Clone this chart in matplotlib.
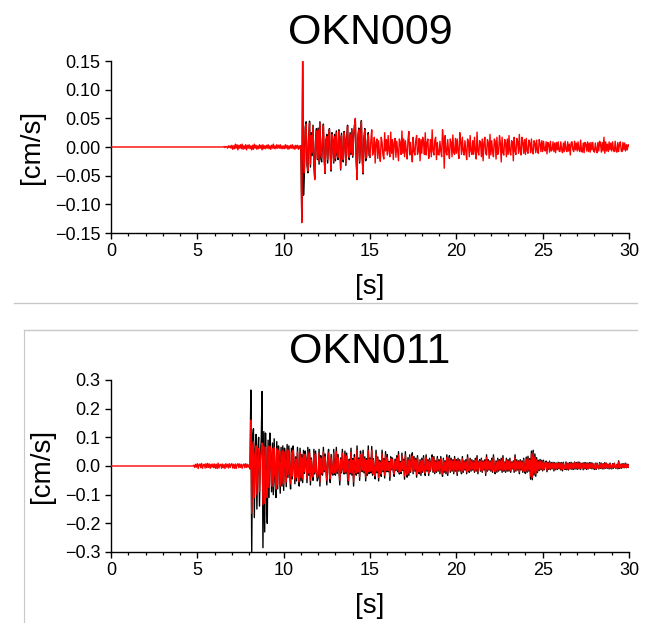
import numpy as np
import matplotlib
matplotlib.use("Agg")
import matplotlib.pyplot as plt
from matplotlib.lines import Line2D
from matplotlib.ticker import MultipleLocator

plt.rcParams['font.family'] = ['Liberation Sans', 'DejaVu Sans']

titles = ["OKN009", "OKN011"]
x_label = "[s]"
y_label = "[cm/s]"
x_ticks = [0, 5, 10, 15, 20, 25, 30]
y_ticks_009 = [-0.15, -0.10, -0.05, 0.00, 0.05, 0.10, 0.15]
y_ticks_011 = [-0.3, -0.2, -0.1, 0.0, 0.1, 0.2, 0.3]

sample_step = 0.05     # seconds between listed samples
unit = 0.001           # cm/s per listed count

# ---- OKN009 (values in 0.001 cm/s, from t = 0 s, one row per second) ----
okn009_red_start = 0.0
okn009_red = [0] * 130 + [
    0, 1, -1, 1, 0, -2, 2, -1, 2, -2,
    3, -4, 2, -3, 5, -2, 4, -5, 3, -2, 4, -3, 5, -4, 2, -3, 4, -5, 3, -2,
    4, -3, 2, -5, 3, -4, 5, -2, 3, -4, 2, -3, 4, -2, 3, -5, 4, -3, 2, -3,
    3, -2, 4, -3, 2, -4, 3, -2, 5, -3, 2, -3, 4, -2, 3, -2, 4, -3, 2, -3,
    2, -3, 4, -2, 3, -4, 2, -3, 3, -2, 4, -3, 2, -4, 3, -2, 3, -4, 2, -3,
    2, -132, 152, -20, -45, 30, 40, -25, -42, 15, 42, -30, 20, -10, 35, -28, -57, 10, 28, -20,
    30, -25, 42, -15, -20, 12, 38, -20, -45, 10, 18, -22, 15, 30, -12, -40, 22, 8, -25, 18,
    -20, 25, -10, -18, 28, 12, -38, 20, -15, -22, 25, 10, -30, 12, 36, -12, -18, 22, -10, 30,
    -15, 12, 35, 50, -20, -57, 15, 30, -25, 10, 45, -18, -45, 12, 30, -20, -15, 10, 22, -12,
    -17, 11, 30, -14, -8, 17, -28, 8, 14, -20, 11, -13, -25, 17, 8, -14, -21, 25, -7, 13,
    -14, 20, -7, -17, 26, -11, 13, -22, 7, 15, -18, 10, -8, -24, 14, 8, -13, 28, -11, 14,
    -17, 11, -7, -21, 13, 27, -14, 8, -11, -26, 17, -8, -14, 11, 20, -13, -7, 15, -24, 13,
    -11, 17, 8, -13, 25, -14, 7, 14, -20, -8, 13, -17, 30, -7, -14, 11, 17, -22, 8, -13,
    -14, 10, -7, -17, 30, 11, -37, 20, -8, -14, 13, -7, -20, 14, 8, -17, 21, -10, -13, 15,
    -11, 14, -8, -20, 25, 10, -13, 17, -7, -14, 11, -8, -22, 14, 8, -17, 20, -7, -13, 11,
    -13, 17, -7, -21, 26, -8, -14, 11, 8, -17, 14, -24, 7, 17, -11, -14, 13, 8, -20, 22,
    -14, 11, -8, -17, 14, 10, -21, 17, -13, -8, 20, 7, -26, 17, -10, -14, 13, 8, -17, 14,
    -13, 20, -8, -14, 11, 8, -24, 17, -7, -13, 15, 10, -11, 22, -7, -14, 17, 8, -11, 13,
    -13, 15, -7, -11, 12, 7, -10, 14, -8, -12, 11, 7, -10, 12, -7, -11, 13, 6, -8, 11,
    -8, 10, -5, -7, 9, -12, 8, 5, -9, 10, -7, -5, 9, -8, 7, -10, 8, -5, 9, -7,
    -8, 9, -5, -10, 7, -8, 10, -4, -8, 9, -7, 5, -14, 8, 9, -5, -8, 10, -5, 7,
    -7, 9, -5, -8, 12, -7, -9, 7, -10, 8, 5, -7, 9, -8, 7, -9, 8, -5, 8, -7,
    -9, 7, -5, -10, 8, -7, 10, 5, -9, 8, -7, 17, -11, 9, -7, 5, -8, 9, -5, 7,
    -7, 9, -5, -8, 10, -7, -9, 8, -8, 5, 9, -7, -8, 8, -5, 7, -7, 4, -5, 4,
    2,
]
okn009_black_start = 11.0
okn009_black = [
    2, -128, 148, -84, -40, 35, 44, -30, -45, 20, 45, -35, 25, -15, 38, -32, -55, 15, 32, -22,
    33, -30, 44, -20, -26, 16, 40, -24, -46, 12, 22, -28, 18, 32, -16, -42, 25, 10, -28, 22,
    -24, 28, -14, -22, 30, 15, -40, 24, -18, -26, 27, 13, -32, 16, 38, -15, -22, 25, -13, 32,
    -18, 15, 38, 48, -24, -55, 18, 33, -28, 12, 46, -22, -47, 15, 32, -24, -18, 12, 25, -15,
    -18,
]

# ---- OKN011 (values in 0.001 cm/s) ----
okn011_red_start = 0.0
okn011_red = [0] * 96 + [
    3, -5, 6, -4,
    8, -9, 5, 7, -6, 9, -8, 4, 6, -7, 8, -6, 9, -5, 7, -8, 6, -4, 7, -6,
    7, -8, 6, -9, 10, -7, 4, 6, -8, 7, -6, 5, -9, 8, -4, 6, -7, 8, -5, 6,
    8, -7, 6, -8, 7, -9, 5, 8, -6, 7, -5, 6, -8, 4, 7, -6, 8, -5, 6, -4,
    3, -10, 160, -165, 60, 85, -110, 40, 70, -100, 30, 60, -90, 20, 55, 80, -135, 70, -130, 65,
    -40, -110, 70, -75, 68, 20, -70, 60, -72, 65, -30, -80, 60, -65, 55, 10, -70, 50, -60, 55,
    -65, 48, 20, -55, 58, -30, 55, -20, -62, 48, -35, 55, 10, -48, 25, -40, 50, -20, -55, 48,
    -40, 30, -45, 42, -20, 40, 15, -45, 50, -25, 45, -50, 22, -20, -38, 45, -22, 40, -15, -40,
    -30, 45, -55, 28, -20, -25, 50, -15, 32, -10, -50, 20, 45, -22, -45, 30, -20, -25, 45, -22,
    -25, 50, -20, 30, -12, -50, 22, -18, 45, -10, -22, 40, -20, 35, -30, -50, 18, -22, 48, -25,
    20, -55, 30, -12, -25, 55, -20, 22, -38, 40, 10, -15, 42, -18, 25, -40, 20, -25, 55, -20,
    22, -18, 55, -25, 20, -12, -35, 42, -18, 25, -40, 15, 12, -28, 42, -15, 20, -32, 38, -15,
    30, -15, 12, -38, 25, -10, 22, -15, -28, 18, -12, 28, -15, 38, -22, 12, -20, 35, -12, 18,
    -35, 38, -14, -30, 22, -25, 30, -17, 14, 35, -21, 25, -14, 21, -30, 28, -11, -21, 17, -25,
    21, -17, 28, -11, -25, 30, -14, 17, -25, 21, -14, 11, 30, -17, 25, -21, 14, -17, 25, -14,
    17, -21, 25, -8, -28, 21, -17, 14, -21, 30, -25, 11, 28, -17, 21, -14, 17, -21, 25, -14,
    17, -25, 21, -14, 17, -8, -21, 25, -17, 14, -11, 17, -21, 30, -11, -17, 21, -14, 17, -11,
    14, -17, 21, -14, 28, -21, 11, 17, -14, 21, -17, 14, -11, 17, -25, 30, -14, 17, -11, 14,
    -14, 21, -17, 30, -8, -21, 14, -17, 21, -14, 17, -11, 21, -17, 28, -14, 11, -17, 21, -14,
    17, -14, 21, -17, 11, -8, 14, -17, 30, -14, 17, -11, 14, -21, 17, -11, 14, -17, 21, -14,
    -20, 24, -17, 26, -14, 20, -35, 42, -40, 45, -25, 32, -28, 22, -18, 15, -12, 18, -10, 15,
    -13, 15, -10, 8, 13, -15, 10, -9, 13, -10, 9, -8, 10, -13, 9, -10, 8, -9, 10, -8,
    9, -11, 9, -13, 10, -5, -9, 11, -10, 8, -11, 9, -8, 10, -9, 8, -9, 11, -8, 9,
    -9, 11, -8, 10, -9, 5, 8, -10, 9, -8, 9, -9, 8, -8, 9, -6, 9, -8, 8, -6,
    -9, 8, -9, 8, -5, -8, 9, -6, 8, -8, 6, -8, 9, -6, 8, -6, 5, -8, 8, -6,
    -8, 6, -6, 8, -4, -6, 5, -8, 14, -6, 5, -6, 6, -5, 6, -5, 8, -5, 5, -4,
    3,
]
okn011_black_start = 8.0
okn011_black = [
    3, -10, 265, -300, 100, 130, -180, 60, 110, -150, 50, 100, -140, 40, 90, 260, -285, 120, -230, 115,
    -60, -200, 90, -110, 115, 30, -90, 80, -100, 95, -50, -110, 85, -80, 70, 20, -95, 65, -70, 70,
    -85, 62, 26, -72, 75, -40, 70, -26, -80, 62, -45, 70, 13, -62, 32, -52, 65, -26, -70, 62,
    -52, 40, -58, 55, -26, 52, 20, -58, 65, -32, 58, -66, 28, -26, -50, 58, -28, 52, -20, -52,
    -40, 58, -70, 36, -26, -32, 65, -20, 42, -13, -66, 26, 58, -28, -58, 40, -26, -32, 58, -28,
    -32, 65, -26, 40, -16, -66, 28, -24, 58, -13, -28, 52, -26, 45, -40, -66, 24, -28, 62, -32,
    26, -70, 40, -16, -32, 70, -26, 28, -50, 52, 13, -20, 55, -24, 32, -52, 26, -32, 70, -26,
    28, -24, 68, -32, 26, -16, -45, 55, -24, 32, -52, 20, 16, -36, 55, -20, 26, -42, 50, -20,
    40, -20, 16, -50, 32, -13, 28, -20, -36, 24, -16, 36, -20, 50, -28, 16, -26, 45, -16, 24,
    -46, 50, -18, -39, 29, -33, 39, -22, 18, 46, -27, 33, -18, 27, -39, 36, -14, -27, 22, -33,
    27, -22, 36, -14, -33, 39, -18, 22, -33, 27, -18, 14, 39, -22, 33, -27, 18, -22, 33, -18,
    22, -27, 33, -10, -36, 27, -22, 18, -27, 39, -33, 14, 36, -22, 27, -18, 22, -27, 33, -18,
    22, -33, 27, -18, 22, -10, -27, 33, -22, 18, -14, 22, -27, 39, -14, -22, 27, -18, 22, -14,
    18, -22, 27, -18, 36, -27, 14, 22, -18, 27, -22, 18, -14, 22, -33, 39, -18, 22, -14, 18,
    -18, 27, -22, 39, -10, -27, 18, -22, 27, -18, 22, -14, 27, -22, 36, -18, 14, -22, 27, -18,
    22, -18, 27, -22, 14, -10, 18, -22, 39, -18, 22, -14, 18, -27, 22, -14, 18, -22, 27, -18,
    -26, 31, -22, 34, -18, 26, -46, 52, -48, 55, -32, 42, -36, 29, -23, 20, -16, 23, -13, 20,
    -17, 20, -13, 10, 17, -20, 13, -12, 17, -13, 12, -10, 13, -17, 12, -13, 10, -12, 13, -10,
    12, -14, 12, -17, 13, -6, -12, 14, -13, 10, -14, 12, -10, 13, -12, 10, -12, 14, -10, 12,
    -12, 14, -10, 13, -12, 6, 10, -13, 12, -10, 12, -12, 10, -10, 12, -8, 12, -10, 10, -8,
    -12, 10, -12, 10, -6, -10, 12, -8, 10, -10, 8, -10, 12, -8, 10, -8, 6, -10, 10, -8,
    -10, 8, -8, 10, -5, -8, 6, -10, 18, -8, 6, -8, 8, -6, 8, -6, 10, -6, 6, -5,
    5,
]


def series(start, values):
    v = np.asarray(values, dtype=float) * unit
    t = start + sample_step * np.arange(len(v))
    return t, v


W, H = 650, 623
fig = plt.figure(figsize=(W / 100, H / 100), dpi=100)
ax1 = fig.add_axes([111 / W, 1 - 233 / H, 518 / W, 172 / H])
ax2 = fig.add_axes([111 / W, 1 - 552 / H, 518 / W, 172 / H])

panels = [
    (ax1, titles[0], (okn009_black_start, okn009_black), (okn009_red_start, okn009_red), y_ticks_009, "%.2f"),
    (ax2, titles[1], (okn011_black_start, okn011_black), (okn011_red_start, okn011_red), y_ticks_011, "%.1f"),
]

for ax, title, blk, red, yt, fmt in panels:
    tb, vb = series(*blk)
    tr, vr = series(*red)
    ax.plot(tb, vb, color="black", lw=1.0, zorder=2)
    ax.plot(tr, vr, color="#ff0000", lw=1.0, zorder=3)
    ax.set_xlim(x_ticks[0], x_ticks[-1])
    ax.set_ylim(yt[0], yt[-1])
    ax.set_xticks(x_ticks)
    ax.set_xticklabels([str(x) for x in x_ticks])
    ax.xaxis.set_minor_locator(MultipleLocator(1))
    ax.set_yticks(yt)
    ax.set_yticklabels([(fmt % y).replace("-", "\u2212") for y in yt])
    for s in ("top", "right"):
        ax.spines[s].set_visible(False)
    for s in ("left", "bottom"):
        ax.spines[s].set_linewidth(1.0)
    ax.tick_params(which="major", direction="out", length=4.5, width=1.0, labelsize=13, pad=3)
    ax.tick_params(which="minor", direction="out", length=2.5, width=0.9)
    ax.set_title(title, fontsize=31, pad=12)
    ax.set_xlabel(x_label, fontsize=20, labelpad=10)
    ax.set_ylabel(y_label, fontsize=20, labelpad=7)

# screenshot separator lines
gray = "#c8c8c8"
fig.add_artist(Line2D([14 / W, 637 / W], [1 - 303 / H] * 2, color=gray, lw=1))
fig.add_artist(Line2D([24 / W, 637 / W], [1 - 330 / H] * 2, color=gray, lw=1))
fig.add_artist(Line2D([24 / W, 24 / W], [1 - 330 / H, 0], color=gray, lw=0.8))

fig.savefig("out.png", dpi=100)
